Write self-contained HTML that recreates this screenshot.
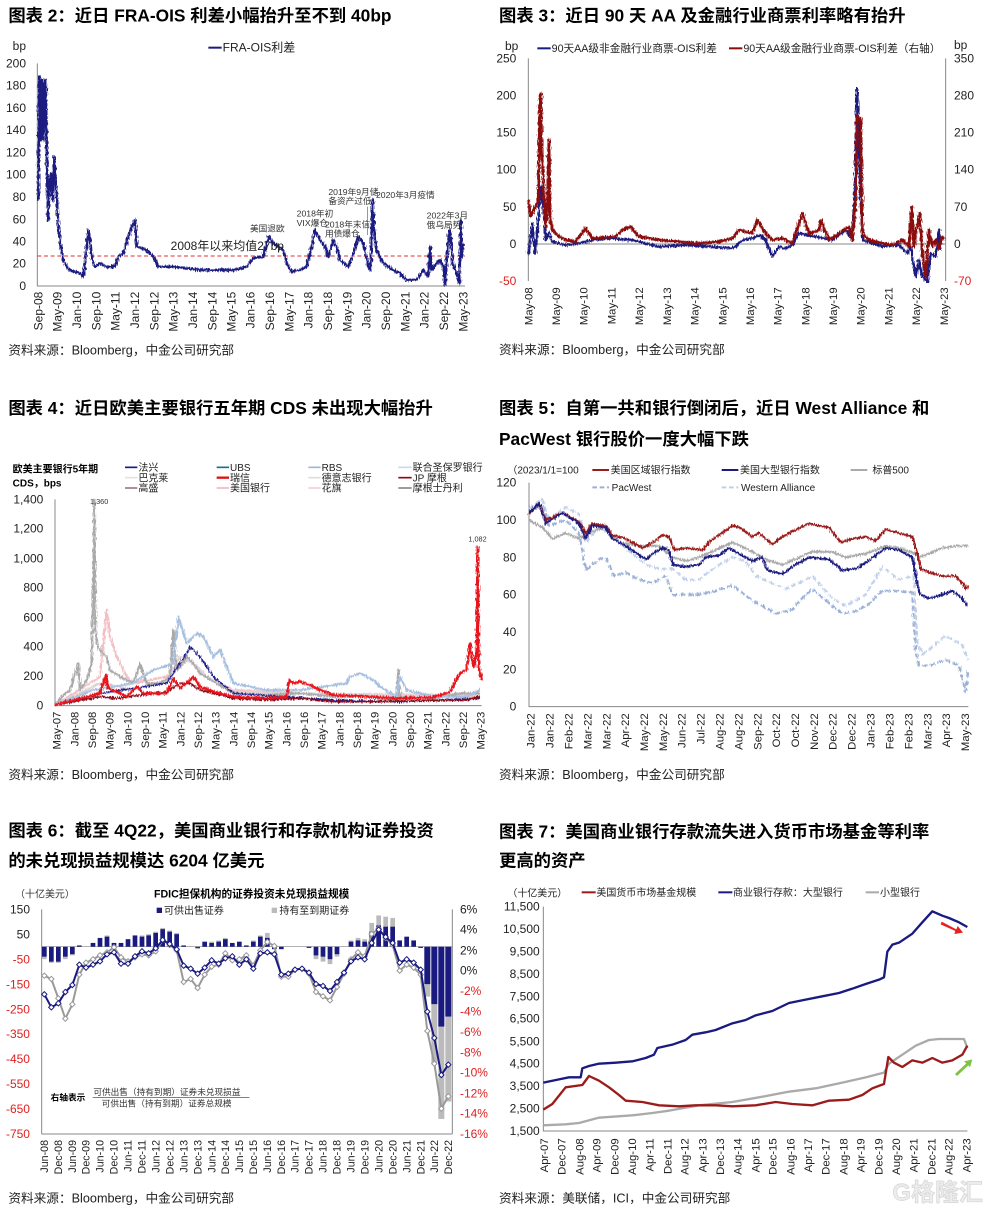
<!DOCTYPE html>
<html><head><meta charset="utf-8"><style>
html,body{margin:0;padding:0;background:#fff;}
svg{display:block;font-family:"Liberation Sans","Noto Sans CJK SC",sans-serif;}
.t{font-weight:bold;font-size:52px;fill:#000;}
.s{font-size:38px;fill:#222;}
.k{font-size:36px;fill:#222;}
.r{fill:#e02020;}
.ax{stroke:#888;stroke-width:3;fill:none;}
.ln{fill:none;stroke-linejoin:round;}
</style></head><body>
<svg width="998" height="1214" viewBox="0 0 998 1214" xmlns="http://www.w3.org/2000/svg">
<defs>
<filter id="nz" x="-5%" y="-10%" width="110%" height="120%">
<feTurbulence type="fractalNoise" baseFrequency="0.35 0.08" numOctaves="2" seed="3" result="tb"/>
<feDisplacementMap in="SourceGraphic" in2="tb" scale="14" xChannelSelector="R" yChannelSelector="G"/>
</filter>
</defs>
<rect width="998" height="1214" fill="#fff"/>

<!-- ============ Panel A ============ -->
<g transform="translate(0,0) scale(0.33333)">
<text class="t" x="25" y="65">图表 2：近日 FRA-OIS 利差小幅抬升至不到 40bp</text>
<text class="k" x="38" y="150">bp</text>
<line x1="625" y1="143" x2="665" y2="143" stroke="#1a1a80" stroke-width="6"/>
<text class="k" x="668" y="154">FRA-OIS利差</text>
<g class="k" text-anchor="end">
<text x="78" y="202">200</text><text x="78" y="269">180</text><text x="78" y="336">160</text><text x="78" y="402">140</text><text x="78" y="469">120</text><text x="78" y="536">100</text><text x="78" y="603">80</text><text x="78" y="670">60</text><text x="78" y="736">40</text><text x="78" y="803">20</text><text x="78" y="870">0</text>
</g>
<path class="ax" d="M112 190V858H1395"/>
<line x1="112" y1="768" x2="1395" y2="768" stroke="#e03030" stroke-width="3" stroke-dasharray="12,8"/>
<polyline class="ln" filter="url(#nz)" stroke="#1a1a80" stroke-width="8" points="115,600 118,230 122,420 126,240 130,420 134,250 137,240 140,430 144,660 148,560 152,520 158,600 162,470 168,560 175,680 180,720 190,780 200,800 210,810 240,820 250,830 258,760 265,690 270,720 275,770 285,800 300,790 320,800 345,800 355,770 370,760 385,710 395,680 405,660 410,740 440,750 460,770 475,800 520,800 600,810 700,810 740,800 760,775 790,770 805,710 820,730 850,750 860,790 875,815 900,810 920,800 935,740 945,690 960,720 975,740 985,770 1000,720 1010,740 1020,780 1045,800 1060,760 1075,710 1090,730 1105,800 1112,810 1118,600 1122,680 1130,750 1150,790 1180,810 1200,820 1220,840 1250,840 1270,810 1285,830 1290,740 1295,810 1310,790 1320,780 1330,800 1335,855 1345,720 1350,690 1358,790 1370,820 1378,850 1382,660 1386,770 1390,730"/>
<line x1="1103" y1="620" x2="1103" y2="705" stroke="#e03030" stroke-width="2"/>
<text class="k" x="512" y="750" fill="#333">2008年以来均值27bp</text>
<g font-size="26" fill="#333">
<text x="750" y="695">美国退欧</text>
<text x="890" y="650">2018年初</text><text x="890" y="678">VIX爆仓</text>
<text x="975" y="682">2018年末信</text><text x="975" y="710">用债爆仓</text>
<text x="985" y="585">2019年9月储</text><text x="985" y="612">备资产过低</text>
<text x="1128" y="594">2020年3月疫情</text>
<text x="1280" y="656">2022年3月</text><text x="1280" y="684">俄乌局势</text>
</g>
<g class="k" text-anchor="end">
<text transform="translate(127,875) rotate(-90)">Sep-08</text><text transform="translate(185,875) rotate(-90)">May-09</text><text transform="translate(243,875) rotate(-90)">Jan-10</text><text transform="translate(301,875) rotate(-90)">Sep-10</text><text transform="translate(359,875) rotate(-90)">May-11</text><text transform="translate(417,875) rotate(-90)">Jan-12</text><text transform="translate(475,875) rotate(-90)">Sep-12</text><text transform="translate(533,875) rotate(-90)">May-13</text><text transform="translate(591,875) rotate(-90)">Jan-14</text><text transform="translate(649,875) rotate(-90)">Sep-14</text><text transform="translate(706,875) rotate(-90)">May-15</text><text transform="translate(764,875) rotate(-90)">Jan-16</text><text transform="translate(822,875) rotate(-90)">Sep-16</text><text transform="translate(880,875) rotate(-90)">May-17</text><text transform="translate(938,875) rotate(-90)">Jan-18</text><text transform="translate(996,875) rotate(-90)">Sep-18</text><text transform="translate(1054,875) rotate(-90)">May-19</text><text transform="translate(1112,875) rotate(-90)">Jan-20</text><text transform="translate(1170,875) rotate(-90)">Sep-20</text><text transform="translate(1228,875) rotate(-90)">May-21</text><text transform="translate(1286,875) rotate(-90)">Jan-22</text><text transform="translate(1344,875) rotate(-90)">Sep-22</text><text transform="translate(1402,875) rotate(-90)">May-23</text>
</g>
<text class="s" x="25" y="1064">资料来源：Bloomberg，中金公司研究部</text>
</g>

<!-- ============ Panel B ============ -->
<g transform="translate(499,0) scale(0.33333)">
<text class="t" x="0" y="65">图表 3：近日 90 天 AA 及金融行业商票利率略有抬升</text>
<text class="k" x="18" y="150">bp</text><text class="k" x="1365" y="147">bp</text>
<line x1="115" y1="145" x2="155" y2="145" stroke="#1a1a80" stroke-width="6"/>
<text font-size="32" x="158" y="156" fill="#222">90天AA级非金融行业商票-OIS利差</text>
<line x1="690" y1="145" x2="730" y2="145" stroke="#8b0a0a" stroke-width="6"/>
<text font-size="32" x="733" y="156" fill="#222">90天AA级金融行业商票-OIS利差（右轴）</text>
<g class="k" text-anchor="end">
<text x="52" y="187">250</text><text x="52" y="298">200</text><text x="52" y="410">150</text><text x="52" y="521">100</text><text x="52" y="633">50</text><text x="52" y="744">0</text><text x="52" y="855" class="r">-50</text>
</g>
<g class="k">
<text x="1365" y="187">350</text><text x="1365" y="298">280</text><text x="1365" y="410">210</text><text x="1365" y="521">140</text><text x="1365" y="633">70</text><text x="1365" y="744">0</text><text x="1365" y="855" class="r">-70</text>
</g>
<path class="ax" d="M88 175V843M1340 175V843"/>
<line x1="88" y1="732" x2="1340" y2="732" stroke="#888" stroke-width="3"/>
<polyline class="ln" filter="url(#nz)" stroke="#1a1a80" stroke-width="8" points="88,765 95,710 100,670 108,760 115,700 120,640 125,560 130,580 135,640 140,720 150,700 160,725 200,735 240,730 280,720 330,715 400,720 480,740 560,735 640,740 690,745 710,740 730,720 760,715 780,705 800,720 820,770 840,740 860,745 880,735 900,700 950,710 1000,720 1040,690 1060,720 1068,560 1074,265 1080,420 1085,600 1092,720 1150,740 1200,735 1225,760 1235,740 1250,830 1260,780 1270,830 1285,845 1295,760 1310,770 1320,690 1325,750"/>
<polyline class="ln" filter="url(#nz)" stroke="#8b0a0a" stroke-width="9" points="88,600 95,650 110,620 118,600 122,320 125,280 128,450 132,520 135,600 140,680 145,620 150,420 153,650 160,690 180,710 200,720 230,725 260,685 280,715 350,710 370,690 395,680 420,710 480,720 540,725 600,730 660,725 700,715 720,690 760,700 775,660 800,700 820,720 850,715 880,730 890,700 910,640 930,700 960,690 965,660 990,720 1020,700 1050,680 1060,720 1070,600 1075,345 1080,360 1085,355 1090,700 1110,720 1150,730 1180,735 1210,720 1230,740 1238,620 1245,740 1250,700 1262,640 1270,760 1280,830 1290,690 1300,740 1310,720 1320,745 1330,710 1335,720"/>
<g font-size="34" fill="#222" text-anchor="end">
<text transform="translate(100,862) rotate(-90)">May-08</text><text transform="translate(183,862) rotate(-90)">May-09</text><text transform="translate(266,862) rotate(-90)">May-10</text><text transform="translate(349,862) rotate(-90)">May-11</text><text transform="translate(432,862) rotate(-90)">May-12</text><text transform="translate(516,862) rotate(-90)">May-13</text><text transform="translate(599,862) rotate(-90)">May-14</text><text transform="translate(682,862) rotate(-90)">May-15</text><text transform="translate(765,862) rotate(-90)">May-16</text><text transform="translate(848,862) rotate(-90)">May-17</text><text transform="translate(931,862) rotate(-90)">May-18</text><text transform="translate(1014,862) rotate(-90)">May-19</text><text transform="translate(1097,862) rotate(-90)">May-20</text><text transform="translate(1180,862) rotate(-90)">May-21</text><text transform="translate(1263,862) rotate(-90)">May-22</text><text transform="translate(1347,862) rotate(-90)">May-23</text>
</g>
<text class="s" x="0" y="1062">资料来源：Bloomberg，中金公司研究部</text>
</g>

<!-- ============ Panel C ============ -->
<g transform="translate(0,390) scale(0.33333)">
<text class="t" x="25" y="72">图表 4：近日欧美主要银行五年期 CDS 未出现大幅抬升</text>
<text font-size="30" font-weight="bold" x="38" y="248">欧美主要银行5年期</text>
<text font-size="30" font-weight="bold" x="38" y="290">CDS，bps</text>
<g font-size="30" fill="#222">
<line x1="375" y1="232" x2="412" y2="232" stroke="#1a1a8c" stroke-width="5"/><text x="415" y="243">法兴</text>
<line x1="375" y1="263" x2="412" y2="263" stroke="#e8e0e0" stroke-width="5"/><text x="415" y="274">巴克莱</text>
<line x1="375" y1="294" x2="412" y2="294" stroke="#a07a80" stroke-width="5"/><text x="415" y="305">高盛</text>
<line x1="650" y1="232" x2="687" y2="232" stroke="#1f6f8f" stroke-width="5"/><text x="690" y="243">UBS</text>
<line x1="650" y1="263" x2="687" y2="263" stroke="#e01010" stroke-width="7"/><text x="690" y="274">瑞信</text>
<line x1="650" y1="294" x2="687" y2="294" stroke="#f2b8bc" stroke-width="5"/><text x="690" y="305">美国银行</text>
<line x1="925" y1="232" x2="962" y2="232" stroke="#9fb8d8" stroke-width="5"/><text x="965" y="243">RBS</text>
<line x1="925" y1="263" x2="962" y2="263" stroke="#ddd" stroke-width="5"/><text x="965" y="274">德意志银行</text>
<line x1="925" y1="294" x2="962" y2="294" stroke="#f0d0d8" stroke-width="5"/><text x="965" y="305">花旗</text>
<line x1="1195" y1="232" x2="1235" y2="232" stroke="#c8daf0" stroke-width="5"/><text x="1238" y="243">联合圣保罗银行</text>
<line x1="1195" y1="263" x2="1235" y2="263" stroke="#8b0a1a" stroke-width="5"/><text x="1238" y="274">JP 摩根</text>
<line x1="1195" y1="294" x2="1235" y2="294" stroke="#888" stroke-width="5"/><text x="1238" y="305">摩根士丹利</text>
</g>
<g class="k" text-anchor="end">
<text x="130" y="340">1,400</text><text x="130" y="428">1,200</text><text x="130" y="517">1,000</text><text x="130" y="605">800</text><text x="130" y="694">600</text><text x="130" y="782">400</text><text x="130" y="870">200</text><text x="130" y="959">0</text>
</g>
<path class="ax" d="M165 328V947H1445"/>
<g filter="url(#nz)">
<polyline class="ln" stroke="#f2c0c4" stroke-width="7" points="165,945 300,860 320,660 330,740 350,800 380,860 400,880 500,860 560,800 600,850 700,900 1000,915 1440,920"/>
<polyline class="ln" stroke="#e0d4d6" stroke-width="7" points="165,945 300,880 400,900 500,870 540,800 580,820 620,860 700,905 1000,912 1440,915"/>
<polyline class="ln" stroke="#aaa" stroke-width="7" points="165,945 190,915 210,900 235,820 240,900 260,870 275,820 280,560 283,330 286,700 290,760 300,780 320,800 330,840 360,860 400,880 420,820 440,880 480,880 510,860 520,720 530,840 550,820 560,800 580,820 600,850 650,880 700,910 800,915 900,910 1000,920 1100,920 1190,930 1195,840 1200,920 1300,925 1380,910 1440,910"/>
<polyline class="ln" stroke="#a8c0e0" stroke-width="7" points="165,945 280,900 400,880 460,840 520,820 535,680 560,760 590,730 610,740 640,800 660,780 700,880 800,900 900,900 1040,880 1050,860 1080,850 1120,870 1140,890 1190,920 1200,860 1220,900 1300,920 1400,920 1440,900"/>
<polyline class="ln" stroke="#1a1a8c" stroke-width="5" points="165,945 300,910 500,880 540,820 560,790 570,770 600,800 640,860 700,910 1000,930 1200,935 1440,925"/>
<polyline class="ln" stroke="#8b0a1a" stroke-width="6" points="165,945 300,920 350,925 500,905 540,880 570,880 600,900 700,925 800,930 900,925 1000,935 1100,935 1400,930 1440,920"/>
<polyline class="ln" stroke="#e8141c" stroke-width="8" points="165,945 260,920 300,910 318,855 325,895 360,910 380,920 410,890 430,910 500,910 520,865 540,895 570,870 580,860 600,890 640,905 700,920 800,925 860,920 868,870 880,880 900,875 930,885 960,900 1000,915 1100,920 1200,925 1300,922 1350,905 1380,850 1400,840 1410,760 1420,830 1430,790 1433,470 1436,830 1445,870"/>
</g>
<text font-size="22" x="270" y="342" fill="#333">1,360</text>
<text font-size="22" x="1405" y="454" fill="#333">1,082</text>
<g font-size="34" fill="#222" text-anchor="end">
<text transform="translate(182,965) rotate(-90)">May-07</text><text transform="translate(235,965) rotate(-90)">Jan-08</text><text transform="translate(288,965) rotate(-90)">Sep-08</text><text transform="translate(341,965) rotate(-90)">May-09</text><text transform="translate(394,965) rotate(-90)">Jan-10</text><text transform="translate(447,965) rotate(-90)">Sep-10</text><text transform="translate(500,965) rotate(-90)">May-11</text><text transform="translate(553,965) rotate(-90)">Jan-12</text><text transform="translate(606,965) rotate(-90)">Sep-12</text><text transform="translate(659,965) rotate(-90)">May-13</text><text transform="translate(712,965) rotate(-90)">Jan-14</text><text transform="translate(765,965) rotate(-90)">Sep-14</text><text transform="translate(818,965) rotate(-90)">May-15</text><text transform="translate(871,965) rotate(-90)">Jan-16</text><text transform="translate(924,965) rotate(-90)">Sep-16</text><text transform="translate(977,965) rotate(-90)">May-17</text><text transform="translate(1030,965) rotate(-90)">Jan-18</text><text transform="translate(1083,965) rotate(-90)">Sep-18</text><text transform="translate(1136,965) rotate(-90)">May-19</text><text transform="translate(1189,965) rotate(-90)">Jan-20</text><text transform="translate(1242,965) rotate(-90)">Sep-20</text><text transform="translate(1295,965) rotate(-90)">May-21</text><text transform="translate(1348,965) rotate(-90)">Jan-22</text><text transform="translate(1401,965) rotate(-90)">Sep-22</text><text transform="translate(1454,965) rotate(-90)">May-23</text>
</g>
<text class="s" x="25" y="1167">资料来源：Bloomberg，中金公司研究部</text>
</g>

<!-- ============ Panel D ============ -->
<g transform="translate(499,390) scale(0.33333)">
<text class="t" x="0" y="72">图表 5：自第一共和银行倒闭后，近日 West Alliance 和</text>
<text class="t" x="0" y="165">PacWest 银行股价一度大幅下跌</text>
<g font-size="30" fill="#222">
<text x="25" y="251">（2023/1/1=100</text>
<line x1="280" y1="240" x2="330" y2="240" stroke="#9b1b1b" stroke-width="6"/><text x="335" y="251">美国区域银行指数</text>
<line x1="668" y1="240" x2="718" y2="240" stroke="#1a1a80" stroke-width="6"/><text x="723" y="251">美国大型银行指数</text>
<line x1="1055" y1="240" x2="1105" y2="240" stroke="#aaa" stroke-width="6"/><text x="1120" y="251">标普500</text>
<line x1="280" y1="292" x2="330" y2="292" stroke="#9ab0d6" stroke-width="6" stroke-dasharray="14,8"/><text x="338" y="303">PacWest</text>
<line x1="668" y1="292" x2="718" y2="292" stroke="#c0d0ea" stroke-width="6" stroke-dasharray="14,8"/><text x="726" y="303">Western Alliance</text>
</g>
<g class="k" text-anchor="end">
<text x="52" y="290">120</text><text x="52" y="402">100</text><text x="52" y="514">80</text><text x="52" y="626">60</text><text x="52" y="738">40</text><text x="52" y="850">20</text><text x="52" y="962">0</text>
</g>
<path class="ax" d="M90 278V950H1408"/>
<g filter="url(#nz)">
<polyline class="ln" stroke="#c0d0ea" stroke-width="7" stroke-dasharray="16,8" points="90,356 130,328 150,390 200,351 240,373 260,457 300,412 330,429 360,457 400,491 440,524 480,536 520,536 560,569 600,569 650,530 700,502 740,513 770,558 820,580 860,597 920,569 940,558 1000,625 1040,648 1100,614 1150,530 1200,569 1245,558 1255,754 1270,793 1300,771 1340,737 1390,765 1408,810"/>
<polyline class="ln" stroke="#9ab0d6" stroke-width="7" stroke-dasharray="16,8" points="90,368 130,345 150,407 200,390 240,429 260,541 300,508 320,502 345,558 380,547 420,569 460,580 500,558 520,614 560,614 600,614 650,603 700,586 760,631 800,653 830,670 880,659 920,614 940,597 1000,648 1030,670 1070,664 1110,642 1150,603 1200,603 1240,608 1250,782 1260,827 1290,827 1340,810 1380,827 1400,905 1408,838"/>
<polyline class="ln" stroke="#aaa" stroke-width="7" points="90,390 130,412 160,446 200,429 240,446 280,424 320,412 360,457 420,468 480,468 520,502 560,513 600,502 650,480 700,457 760,485 800,508 850,524 900,502 940,485 1000,485 1040,502 1100,491 1160,468 1200,474 1250,491 1260,502 1290,491 1330,474 1370,468 1408,468"/>
<polyline class="ln" stroke="#9b1b1b" stroke-width="7" points="90,373 120,340 140,390 190,368 240,396 260,429 280,401 320,407 340,435 380,446 430,474 470,452 490,435 510,440 525,480 560,474 610,480 630,457 660,435 700,407 720,412 760,440 780,429 820,463 850,440 880,424 930,401 990,412 1025,457 1060,446 1100,440 1130,452 1160,418 1200,429 1240,440 1255,491 1265,536 1290,547 1330,558 1370,558 1390,580 1400,597 1408,586"/>
<polyline class="ln" stroke="#1a1a80" stroke-width="7" points="90,368 120,340 140,401 190,368 240,401 260,446 280,407 320,412 340,446 380,468 440,508 470,485 490,474 510,480 520,524 560,530 600,524 620,502 660,496 690,474 720,491 760,513 790,502 805,541 850,552 880,530 930,502 990,508 1030,541 1070,536 1100,519 1130,496 1160,474 1200,480 1240,502 1258,597 1265,614 1290,625 1330,614 1360,603 1390,625 1405,648"/>
</g>
<g font-size="34" fill="#222" text-anchor="end">
<text transform="translate(107,970) rotate(-90)">Jan-22</text><text transform="translate(164,970) rotate(-90)">Jan-22</text><text transform="translate(220,970) rotate(-90)">Feb-22</text><text transform="translate(277,970) rotate(-90)">Mar-22</text><text transform="translate(334,970) rotate(-90)">Mar-22</text><text transform="translate(390,970) rotate(-90)">Apr-22</text><text transform="translate(447,970) rotate(-90)">May-22</text><text transform="translate(504,970) rotate(-90)">May-22</text><text transform="translate(560,970) rotate(-90)">Jun-22</text><text transform="translate(617,970) rotate(-90)">Jul-22</text><text transform="translate(674,970) rotate(-90)">Aug-22</text><text transform="translate(730,970) rotate(-90)">Aug-22</text><text transform="translate(787,970) rotate(-90)">Sep-22</text><text transform="translate(843,970) rotate(-90)">Oct-22</text><text transform="translate(900,970) rotate(-90)">Oct-22</text><text transform="translate(957,970) rotate(-90)">Nov-22</text><text transform="translate(1013,970) rotate(-90)">Dec-22</text><text transform="translate(1070,970) rotate(-90)">Dec-22</text><text transform="translate(1127,970) rotate(-90)">Jan-23</text><text transform="translate(1183,970) rotate(-90)">Feb-23</text><text transform="translate(1240,970) rotate(-90)">Feb-23</text><text transform="translate(1297,970) rotate(-90)">Mar-23</text><text transform="translate(1353,970) rotate(-90)">Apr-23</text><text transform="translate(1410,970) rotate(-90)">May-23</text>
</g>
<text class="s" x="0" y="1167">资料来源：Bloomberg，中金公司研究部</text>
</g>

<!-- ============ Panel E ============ -->
<g transform="translate(0,810) scale(0.33333)">
<defs>
<marker id="dn" markerUnits="userSpaceOnUse" markerWidth="20" markerHeight="20" refX="10" refY="10"><path d="M10 2L18 10L10 18L2 10Z" fill="#fff" stroke="#1a1a80" stroke-width="3"/></marker>
<marker id="dg" markerUnits="userSpaceOnUse" markerWidth="20" markerHeight="20" refX="10" refY="10"><path d="M10 2L18 10L10 18L2 10Z" fill="#fff" stroke="#999" stroke-width="3"/></marker>
</defs>
<text class="t" x="25" y="80">图表 6：截至 4Q22，美国商业银行和存款机构证券投资</text>
<text class="t" x="25" y="170">的未兑现损益规模达 6204 亿美元</text>
<text font-size="30" x="45" y="262" fill="#333">（十亿美元）</text>
<text font-size="32" font-weight="bold" x="755" y="262" text-anchor="middle">FDIC担保机构的证券投资未兑现损益规模</text>
<rect x="470" y="293" width="16" height="16" fill="#1a1a80"/><text font-size="30" x="492" y="312" fill="#222">可供出售证券</text>
<rect x="815" y="293" width="16" height="16" fill="#bbb"/><text font-size="30" x="838" y="312" fill="#222">持有至到期证券</text>
<g class="k" text-anchor="end">
<text x="90" y="310">150</text><text x="90" y="385">50</text><text x="90" y="460" class="r">-50</text><text x="90" y="535" class="r">-150</text><text x="90" y="610" class="r">-250</text><text x="90" y="684" class="r">-350</text><text x="90" y="759" class="r">-450</text><text x="90" y="834" class="r">-550</text><text x="90" y="909" class="r">-650</text><text x="90" y="984" class="r">-750</text>
</g>
<g class="k">
<text x="1380" y="310">6%</text><text x="1380" y="371">4%</text><text x="1380" y="433">2%</text><text x="1380" y="494">0%</text><text x="1380" y="555" class="r">-2%</text><text x="1380" y="616" class="r">-4%</text><text x="1380" y="678" class="r">-6%</text><text x="1380" y="739" class="r">-8%</text><text x="1380" y="800" class="r">-10%</text><text x="1380" y="862" class="r">-12%</text><text x="1380" y="923" class="r">-14%</text><text x="1380" y="984" class="r">-16%</text>
</g>
<path class="ax" d="M125 298V972M1357 298V972M125 972H1357"/>
<line x1="125" y1="410" x2="1357" y2="410" stroke="#888" stroke-width="2"/>
<g fill="#bbb">
<rect x="126" y="410" width="14" height="37.5"/><rect x="147" y="410" width="14" height="48.7"/><rect x="168" y="410" width="14" height="48.7"/><rect x="189" y="410" width="14" height="37.5"/><rect x="210" y="410" width="14" height="26.2"/>
<rect x="251" y="408.5" width="14" height="1.5"/><rect x="314" y="376.3" width="14" height="33.7"/><rect x="419" y="376.3" width="14" height="33.7"/><rect x="439" y="372.5" width="14" height="37.5"/><rect x="460" y="365.1" width="14" height="44.9"/><rect x="481" y="353.8" width="14" height="56.2"/><rect x="502" y="361.3" width="14" height="48.7"/><rect x="523" y="368.8" width="14" height="41.2"/>
<rect x="565" y="407.8" width="14" height="2.2"/><rect x="586" y="410" width="14" height="7.5"/><rect x="628" y="395" width="14" height="15"/><rect x="649" y="391.3" width="14" height="18.7"/><rect x="669" y="383.8" width="14" height="26.2"/>
<rect x="753" y="391.3" width="14" height="18.7"/><rect x="774" y="376.3" width="14" height="33.7"/><rect x="795" y="368.8" width="14" height="41.2"/>
<rect x="941" y="410" width="14" height="37.5"/><rect x="962" y="410" width="14" height="44.9"/><rect x="983" y="410" width="14" height="52.4"/><rect x="1004" y="410" width="14" height="30"/>
<rect x="1046" y="391.3" width="14" height="18.7"/><rect x="1067" y="383.8" width="14" height="26.2"/><rect x="1087" y="387.5" width="14" height="22.5"/><rect x="1108" y="338.8" width="14" height="71.2"/><rect x="1129" y="316.4" width="14" height="93.6"/><rect x="1150" y="320.1" width="14" height="89.9"/><rect x="1171" y="323.9" width="14" height="86.1"/>
<rect x="1273" y="410" width="18" height="149.8"/><rect x="1294" y="410" width="18" height="352"/><rect x="1315" y="410" width="18" height="516.8"/><rect x="1336" y="410" width="18" height="464.4"/>
</g>
<g fill="#1a1a80">
<rect x="126" y="410" width="14" height="30"/><rect x="147" y="410" width="14" height="44.9"/><rect x="168" y="410" width="14" height="44.9"/><rect x="189" y="410" width="14" height="30"/><rect x="210" y="410" width="14" height="22.5"/>
<rect x="231" y="406.3" width="14" height="3.7"/><rect x="272" y="398.8" width="14" height="11.2"/><rect x="293" y="383.8" width="14" height="26.2"/><rect x="314" y="380" width="14" height="30"/><rect x="335" y="398.8" width="14" height="11.2"/><rect x="356" y="398.8" width="14" height="11.2"/><rect x="377" y="387.5" width="14" height="22.5"/><rect x="398" y="376.3" width="14" height="33.7"/><rect x="419" y="380" width="14" height="30"/><rect x="439" y="376.3" width="14" height="33.7"/><rect x="460" y="368.8" width="14" height="41.2"/><rect x="481" y="357.6" width="14" height="52.4"/><rect x="502" y="365.1" width="14" height="44.9"/><rect x="523" y="372.5" width="14" height="37.5"/>
<rect x="544" y="406.3" width="14" height="3.7"/><rect x="586" y="410" width="14" height="3.7"/><rect x="607" y="395" width="14" height="15"/><rect x="628" y="398.8" width="14" height="11.2"/><rect x="649" y="395" width="14" height="15"/><rect x="669" y="387.5" width="14" height="22.5"/><rect x="690" y="398.8" width="14" height="11.2"/><rect x="711" y="395" width="14" height="15"/><rect x="732" y="406.3" width="14" height="3.7"/><rect x="753" y="395" width="14" height="15"/><rect x="774" y="380" width="14" height="30"/><rect x="795" y="383.8" width="14" height="26.2"/>
<rect x="816" y="410" width="14" height="7.5"/><rect x="837" y="410" width="14" height="7.5"/><rect x="920" y="410" width="14" height="3.7"/><rect x="941" y="410" width="14" height="26.2"/><rect x="962" y="410" width="14" height="30"/><rect x="983" y="410" width="14" height="37.5"/><rect x="1004" y="410" width="14" height="22.5"/>
<rect x="1046" y="395" width="14" height="15"/><rect x="1067" y="391.3" width="14" height="18.7"/><rect x="1087" y="395" width="14" height="15"/><rect x="1108" y="365.1" width="14" height="44.9"/><rect x="1129" y="346.3" width="14" height="63.7"/><rect x="1150" y="350.1" width="14" height="59.9"/><rect x="1171" y="350.1" width="14" height="59.9"/><rect x="1192" y="391.3" width="14" height="18.7"/><rect x="1213" y="380" width="14" height="30"/><rect x="1234" y="391.3" width="14" height="18.7"/><rect x="1255" y="410" width="14" height="3.7"/>
<rect x="1273" y="410" width="18" height="112.4"/><rect x="1294" y="410" width="18" height="172.3"/><rect x="1315" y="410" width="18" height="239.7"/><rect x="1336" y="410" width="18" height="209.7"/>
</g>
<polyline class="ln" stroke="#999" stroke-width="6" marker-start="url(#dg)" marker-mid="url(#dg)" marker-end="url(#dg)" points="133,497 154,507 175,565 196,626 217,583 238,494 258,458 279,448 300,436 321,427 342,412 363,442 384,454 405,442 426,433 446,436 467,424 488,390 509,405 530,421 551,516 572,507 593,534 614,494 635,470 656,464 676,430 697,451 718,448 739,436 760,467 781,421 802,396 823,408 844,500 865,500 885,479 906,476 927,491 948,546 969,559 990,571 1011,531 1032,491 1053,448 1074,427 1094,439 1115,372 1136,356 1157,384 1178,405 1199,482 1220,464 1241,473 1262,494 1282,663 1303,761 1324,896 1345,859"/>
<polyline class="ln" stroke="#1a1a80" stroke-width="6" marker-start="url(#dn)" marker-mid="url(#dn)" marker-end="url(#dn)" points="133,553 154,592 175,580 196,546 217,525 238,464 258,473 279,464 300,454 321,433 342,427 363,461 384,461 405,439 426,424 446,430 467,415 488,390 509,402 530,418 551,467 572,476 593,491 614,473 635,451 656,461 676,445 697,439 718,464 739,448 760,476 781,430 802,427 823,433 844,494 865,491 885,479 906,476 927,488 948,522 969,528 990,543 1011,516 1032,488 1053,454 1074,442 1094,448 1115,399 1136,359 1157,381 1178,399 1199,458 1220,448 1241,458 1262,479 1282,605 1303,684 1324,795 1345,764"/>
<text font-size="26" font-weight="bold" x="152" y="872">右轴表示</text>
<text font-size="26" x="280" y="855" fill="#333">可供出售（持有到期）证券未兑现损益</text>
<line x1="278" y1="863" x2="748" y2="863" stroke="#333" stroke-width="2"/>
<text font-size="26" x="305" y="890" fill="#333">可供出售（持有到期）证券总规模</text>
<g font-size="32" fill="#222" text-anchor="end">
<text transform="translate(144,990) rotate(-90)">Jun-08</text><text transform="translate(186,990) rotate(-90)">Dec-08</text><text transform="translate(228,990) rotate(-90)">Jun-09</text><text transform="translate(269,990) rotate(-90)">Dec-09</text><text transform="translate(311,990) rotate(-90)">Jun-10</text><text transform="translate(353,990) rotate(-90)">Dec-10</text><text transform="translate(395,990) rotate(-90)">Jun-11</text><text transform="translate(437,990) rotate(-90)">Dec-11</text><text transform="translate(478,990) rotate(-90)">Jun-12</text><text transform="translate(520,990) rotate(-90)">Dec-12</text><text transform="translate(562,990) rotate(-90)">Jun-13</text><text transform="translate(604,990) rotate(-90)">Dec-13</text><text transform="translate(646,990) rotate(-90)">Jun-14</text><text transform="translate(687,990) rotate(-90)">Dec-14</text><text transform="translate(729,990) rotate(-90)">Jun-15</text><text transform="translate(771,990) rotate(-90)">Dec-15</text><text transform="translate(813,990) rotate(-90)">Jun-16</text><text transform="translate(855,990) rotate(-90)">Dec-16</text><text transform="translate(896,990) rotate(-90)">Jun-17</text><text transform="translate(938,990) rotate(-90)">Dec-17</text><text transform="translate(980,990) rotate(-90)">Jun-18</text><text transform="translate(1022,990) rotate(-90)">Dec-18</text><text transform="translate(1064,990) rotate(-90)">Jun-19</text><text transform="translate(1105,990) rotate(-90)">Dec-19</text><text transform="translate(1147,990) rotate(-90)">Jun-20</text><text transform="translate(1189,990) rotate(-90)">Dec-20</text><text transform="translate(1231,990) rotate(-90)">Jun-21</text><text transform="translate(1273,990) rotate(-90)">Dec-21</text><text transform="translate(1314,990) rotate(-90)">Jun-22</text><text transform="translate(1356,990) rotate(-90)">Dec-22</text>
</g>
<text class="s" x="25" y="1177">资料来源：Bloomberg，中金公司研究部</text>
</g>

<!-- ============ Panel F ============ -->
<g transform="translate(499,810) scale(0.33333)">
<text class="t" x="0" y="82">图表 7：美国商业银行存款流失进入货币市场基金等利率</text>
<text class="t" x="0" y="170">更高的资产</text>
<g font-size="30" fill="#222">
<text x="25" y="260">（十亿美元）</text>
<line x1="248" y1="247" x2="290" y2="247" stroke="#9b1b1b" stroke-width="6"/><text x="292" y="258">美国货币市场基金规模</text>
<line x1="658" y1="247" x2="700" y2="247" stroke="#1a1a80" stroke-width="6"/><text x="702" y="258">商业银行存款：大型银行</text>
<line x1="1100" y1="247" x2="1140" y2="247" stroke="#aaa" stroke-width="6"/><text x="1143" y="258">小型银行</text>
</g>
<g class="k" text-anchor="end">
<text x="122" y="302">11,500</text><text x="122" y="369">10,500</text><text x="122" y="436">9,500</text><text x="122" y="504">8,500</text><text x="122" y="571">7,500</text><text x="122" y="638">6,500</text><text x="122" y="706">5,500</text><text x="122" y="773">4,500</text><text x="122" y="840">3,500</text><text x="122" y="908">2,500</text><text x="122" y="975">1,500</text>
</g>
<path class="ax" d="M133 290V963H1405"/>
<polyline class="ln" stroke="#aaa" stroke-width="7" points="133,946 200,943 240,939 300,923 400,916 460,909 510,902 600,886 700,876 780,862 870,845 950,835 1030,818 1100,802 1155,788 1170,761 1210,734 1250,707 1290,690 1320,687 1360,687 1395,687 1405,714"/>
<polyline class="ln" stroke="#9b1b1b" stroke-width="7" points="133,899 160,882 200,832 250,825 270,798 300,812 330,832 360,855 380,872 430,876 480,886 540,889 590,886 650,886 700,889 770,886 830,876 880,882 940,886 990,872 1050,869 1090,855 1120,835 1155,822 1168,741 1185,758 1210,771 1240,751 1270,758 1300,744 1330,758 1360,751 1390,734 1405,707"/>
<polyline class="ln" stroke="#1a1a80" stroke-width="7" points="133,818 180,808 210,802 245,802 250,775 270,768 300,761 350,758 400,754 440,744 465,734 475,714 520,704 560,690 580,674 620,667 650,660 700,640 740,630 770,616 820,603 870,579 920,569 970,559 1020,549 1060,536 1100,522 1140,509 1155,502 1165,425 1180,404 1200,398 1240,371 1270,337 1300,304 1330,317 1350,324 1380,337 1405,351"/>
<path d="M1328 335L1372 358L1376 348L1392 368L1366 372L1369 363L1325 343Z" fill="#e82020"/>
<path d="M1368 792L1402 760L1395 754L1420 748L1413 772L1408 766L1374 798Z" fill="#7cc442"/>
<g font-size="34" fill="#222" text-anchor="end">
<text transform="translate(147,985) rotate(-90)">Apr-07</text><text transform="translate(200,985) rotate(-90)">Dec-07</text><text transform="translate(253,985) rotate(-90)">Aug-08</text><text transform="translate(305,985) rotate(-90)">Apr-09</text><text transform="translate(358,985) rotate(-90)">Dec-09</text><text transform="translate(411,985) rotate(-90)">Aug-10</text><text transform="translate(464,985) rotate(-90)">Apr-11</text><text transform="translate(517,985) rotate(-90)">Dec-11</text><text transform="translate(569,985) rotate(-90)">Aug-12</text><text transform="translate(622,985) rotate(-90)">Apr-13</text><text transform="translate(675,985) rotate(-90)">Dec-13</text><text transform="translate(728,985) rotate(-90)">Aug-14</text><text transform="translate(781,985) rotate(-90)">Apr-15</text><text transform="translate(833,985) rotate(-90)">Dec-15</text><text transform="translate(886,985) rotate(-90)">Aug-16</text><text transform="translate(939,985) rotate(-90)">Apr-17</text><text transform="translate(992,985) rotate(-90)">Dec-17</text><text transform="translate(1045,985) rotate(-90)">Aug-18</text><text transform="translate(1097,985) rotate(-90)">Apr-19</text><text transform="translate(1150,985) rotate(-90)">Dec-19</text><text transform="translate(1203,985) rotate(-90)">Aug-20</text><text transform="translate(1256,985) rotate(-90)">Apr-21</text><text transform="translate(1309,985) rotate(-90)">Dec-21</text><text transform="translate(1361,985) rotate(-90)">Aug-22</text><text transform="translate(1414,985) rotate(-90)">Apr-23</text>
</g>
<text class="s" x="0" y="1177">资料来源：美联储，ICI，中金公司研究部</text>
<text x="1180" y="1172" font-size="72" font-weight="bold" fill="#ececec" stroke="#d4d4d4" stroke-width="2">G格隆汇</text>
</g>
</svg>
</body></html>
